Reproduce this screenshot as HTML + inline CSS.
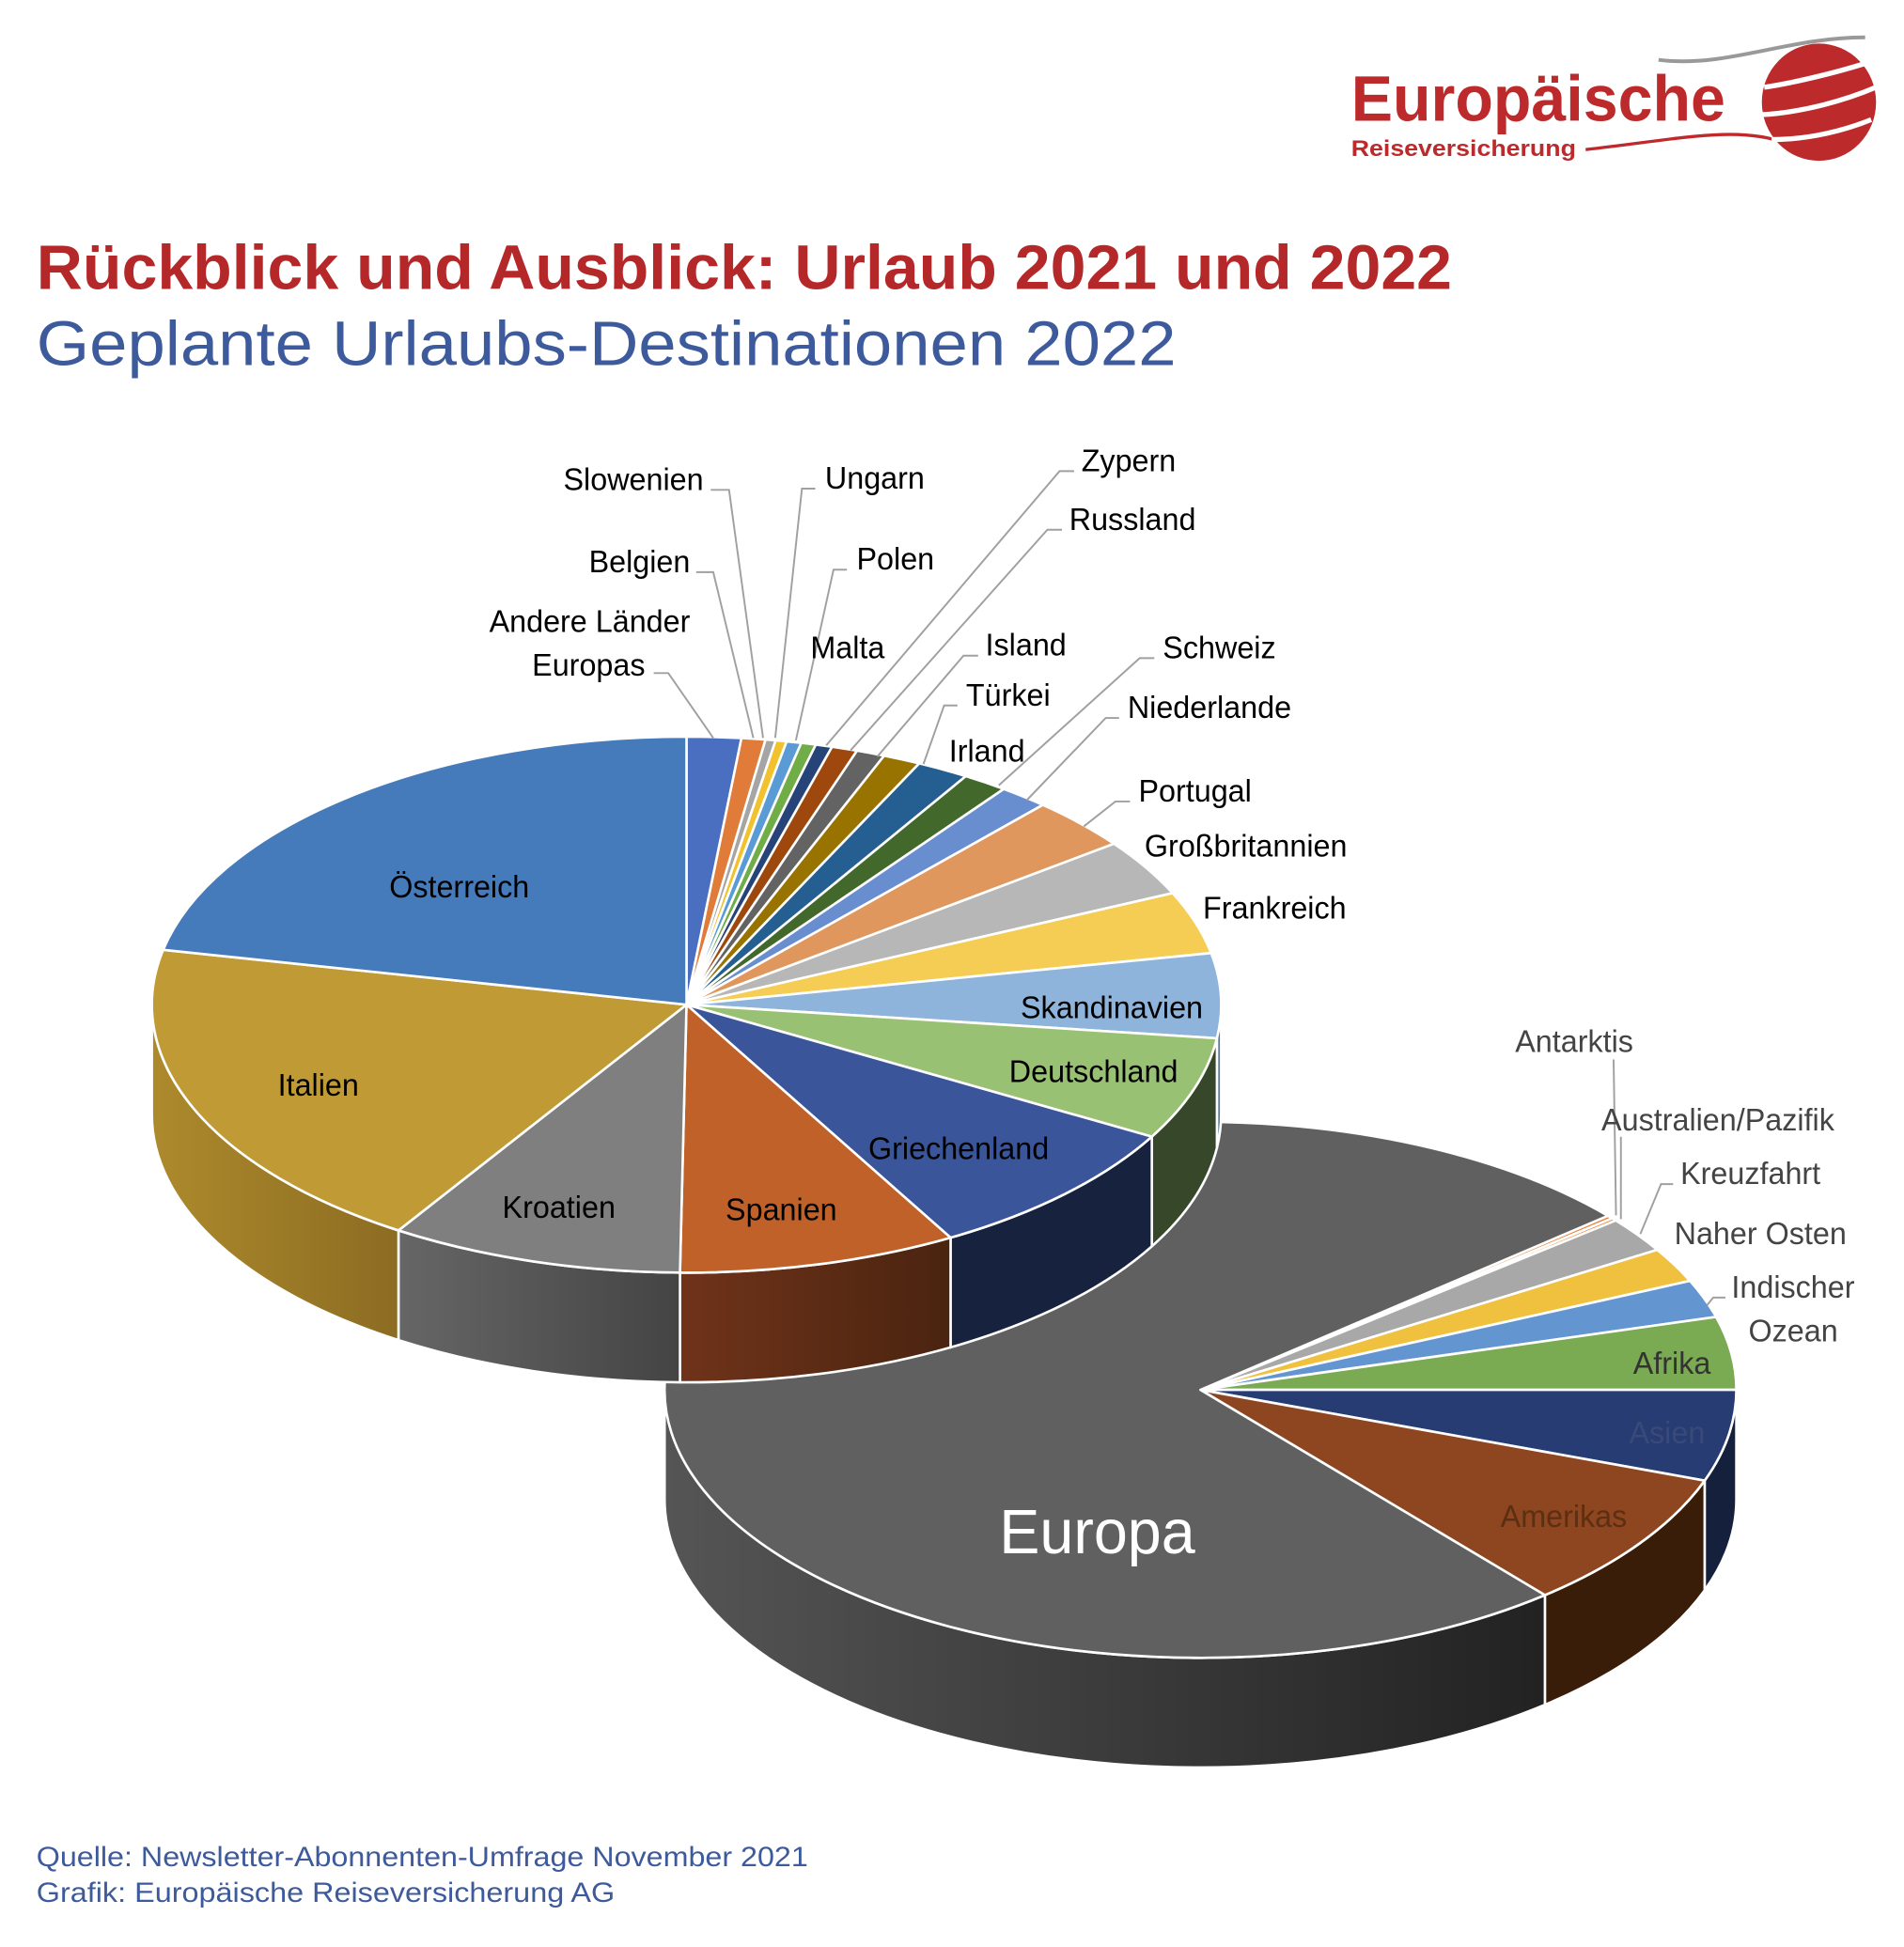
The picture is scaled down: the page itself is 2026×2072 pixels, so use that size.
<!DOCTYPE html>
<html><head><meta charset="utf-8"><style>
html,body{margin:0;padding:0;background:#fff}
svg{display:block}
text{font-family:"Liberation Sans",sans-serif}
</style></head><body>
<svg id="s" width="2026" height="2072" viewBox="0 0 1567 1562" preserveAspectRatio="none" xmlns="http://www.w3.org/2000/svg">
<defs>
<linearGradient id="gE" x1="0" x2="1"><stop offset="0" stop-color="#555"/><stop offset="1" stop-color="#222"/></linearGradient>
<linearGradient id="gI" x1="0" x2="1"><stop offset="0" stop-color="#ad8a2c"/><stop offset="1" stop-color="#8c6c22"/></linearGradient>
<linearGradient id="gK" x1="0" x2="1"><stop offset="0" stop-color="#666"/><stop offset="1" stop-color="#444"/></linearGradient>
<linearGradient id="gS" x1="0" x2="1"><stop offset="0" stop-color="#70331a"/><stop offset="1" stop-color="#4a2410"/></linearGradient>
</defs>
<g id="lower"></g>
<g id="upper"></g>
<g fill="none" stroke="#a0a0a0" stroke-width="1.5">
<polyline points="538,540 550,540 587,592"/>
<polyline points="573,459 587,459 620,592"/>
<polyline points="585,393 600,393 628,592"/>
<polyline points="671,392 660,392 638,592"/>
<polyline points="697,457 686,457 655,594"/>
<polyline points="884,378 872,378 680,598"/>
<polyline points="874,425 862,425 700,602"/>
<polyline points="805,526 793,526 722,607"/>
<polyline points="788,566 777,566 760,613"/>
<polyline points="950,528 938,528 822,630"/>
<polyline points="921,576 910,576 845,642"/>
<polyline points="930,643 918,643 892,663"/>
<polyline points="1328,850 1330,975"/>
<polyline points="1334,912 1334,978"/>
<polyline points="1377,950 1367,950 1350,990"/>
<polyline points="1420,1041 1410,1041 1405,1047"/>
</g>
<g font-size="25" fill="#000">
<text x="378" y="720" text-anchor="middle">Österreich</text>
<text x="262" y="879" text-anchor="middle">Italien</text>
<text x="460" y="977" text-anchor="middle">Kroatien</text>
<text x="643" y="979" text-anchor="middle">Spanien</text>
<text x="789" y="930" text-anchor="middle">Griechenland</text>
<text x="900" y="868" text-anchor="middle">Deutschland</text>
<text x="915" y="817" text-anchor="middle">Skandinavien</text>
<text x="990" y="737">Frankreich</text>
<text x="942" y="687">Großbritannien</text>
<text x="937" y="643">Portugal</text>
<text x="928" y="576">Niederlande</text>
<text x="957" y="528">Schweiz</text>
<text x="781" y="611">Irland</text>
<text x="795" y="566">Türkei</text>
<text x="811" y="526">Island</text>
<text x="880" y="425">Russland</text>
<text x="890" y="378">Zypern</text>
<text x="667" y="528">Malta</text>
<text x="705" y="457">Polen</text>
<text x="679" y="392">Ungarn</text>
<text x="579" y="393" text-anchor="end">Slowenien</text>
<text x="568" y="459" text-anchor="end">Belgien</text>
<text x="568" y="507" text-anchor="end">Andere Länder</text>
<text x="531" y="542" text-anchor="end">Europas</text>
</g>
<g font-size="25" fill="#444">
<text x="1247" y="844">Antarktis</text>
<text x="1318" y="907">Australien/Pazifik</text>
<text x="1383" y="950">Kreuzfahrt</text>
<text x="1378" y="998">Naher Osten</text>
<text x="1425" y="1041">Indischer</text>
<text x="1439" y="1076">Ozean</text>
<text x="1376" y="1102" text-anchor="middle" fill="#333">Afrika</text>
<text x="1372" y="1158" text-anchor="middle" fill="#3a4a78">Asien</text>
<text x="1287" y="1225" text-anchor="middle" fill="#5c2e12">Amerikas</text>
</g>
<text x="903" y="1246" text-anchor="middle" font-size="50" fill="#fff">Europa</text>
<text x="30" y="232" font-size="50" font-weight="bold" fill="#b5282a" textLength="1165" lengthAdjust="spacingAndGlyphs">Rückblick und Ausblick: Urlaub 2021 und 2022</text>
<text x="30" y="293" font-size="50" fill="#3d5a9c" textLength="938" lengthAdjust="spacingAndGlyphs">Geplante Urlaubs-Destinationen 2022</text>
<text x="30" y="1497" font-size="22" fill="#3d5a9c" textLength="635" lengthAdjust="spacingAndGlyphs">Quelle: Newsletter-Abonnenten-Umfrage November 2021</text>
<text x="30" y="1526" font-size="22" fill="#3d5a9c" textLength="476" lengthAdjust="spacingAndGlyphs">Grafik: Europäische Reiseversicherung AG</text>
<!-- logo -->
<path d="M1365,48 C1420,55 1470,30 1535,30" fill="none" stroke="#999" stroke-width="3"/>
<path d="M1305,120 C1380,112 1430,100 1470,115" fill="none" stroke="#c0282c" stroke-width="2.5"/>
<circle cx="1497" cy="82" r="47" fill="#bd2a2c"/>
<path d="M1452,70 C1480,66 1520,56 1544,48 M1450,92 C1485,90 1520,80 1544,70 M1458,112 C1490,112 1520,104 1540,96" stroke="#fff" stroke-width="4" fill="none"/>
<text x="1112" y="97" font-size="52" font-weight="bold" fill="#bd2a2c" textLength="308" lengthAdjust="spacingAndGlyphs">Europäische</text>
<text x="1112" y="125" font-size="18" font-weight="bold" fill="#bd2a2c" textLength="185" lengthAdjust="spacingAndGlyphs">Reiseversicherung</text>
</svg>
<script>
var NS="http://www.w3.org/2000/svg";
function pie(g,cx,cy,rx,ry,d,sl){
  var R=Math.PI/180;
  function p(t,dy){return [cx+rx*Math.cos(t*R),cy+ry*Math.sin(t*R)+(dy||0)];}
  function add(dstr,fill){var e=document.createElementNS(NS,"path");e.setAttribute("d",dstr);e.setAttribute("fill",fill);e.setAttribute("stroke","#fff");e.setAttribute("stroke-width","2");e.setAttribute("stroke-linejoin","round");g.appendChild(e);}
  sl.forEach(function(s){
    var a=Math.max(s[0],0),b=Math.min(s[1],180);
    if(b>a&&s[3]){
      var A=p(a),B=p(b),A2=p(a,d),B2=p(b,d);
      add("M"+A+" A"+rx+" "+ry+" 0 0 1 "+B+" L"+B2+" A"+rx+" "+ry+" 0 0 0 "+A2+" Z",s[3]);
    }
  });
  sl.forEach(function(s){
    var A=p(s[0]),B=p(s[1]),large=(s[1]-s[0])>180?1:0;
    add("M"+cx+","+cy+" L"+A+" A"+rx+" "+ry+" 0 "+large+" 1 "+B+" Z",s[2]);
  });
}
pie(document.getElementById("lower"),988,1115,441,215,88,[
 [-40.5,-39.8,"#ed7d31"],
 [-39.8,-39.2,"#ed7d31"],
 [-39.2,-31.5,"#a8a8a8"],
 [-31.5,-24,"#f0c03f"],
 [-24,-15.8,"#6396d0"],
 [-15.8,0,"#7aaa52"],
 [0,19.8,"#263c72","#14203c"],
 [19.8,50,"#8e4620","#3a1d08"],
 [50,319.5,"#606060","url(#gE)"]
]);
var T=[-90,-84.1,-81.5,-80.4,-79.2,-77.6,-76.0,-74.2,-71.4,-68.3,-64.2,-58.5,-53.6,-48.2,-36.9,-24.6,-11.1,7.2,29.5,60.4,90.7,122.6,191.8,270];
var C=["#4a6fc0","#e07b39","#a5a5a5","#f2c12e","#5b9bd5","#70ad47","#264478","#9e480e","#636363","#997300","#255e91","#43682b","#698ed0","#e0975e","#b7b7b7","#f5cd55","#8eb4dc","#98c173","#3a5599","#c0612a","#7f7f7f","#c09a35","#457bbb"];
var W={16:"#5a7896",17:"#37482a",18:"#16223e",19:"url(#gS)",20:"url(#gK)",21:"url(#gI)"};
var sl=[];for(var i=0;i<C.length;i++)sl.push([T[i],T[i+1],C[i],W[i]]);
pie(document.getElementById("upper"),565,806,440,215,88,sl);
</script>
</body></html>
